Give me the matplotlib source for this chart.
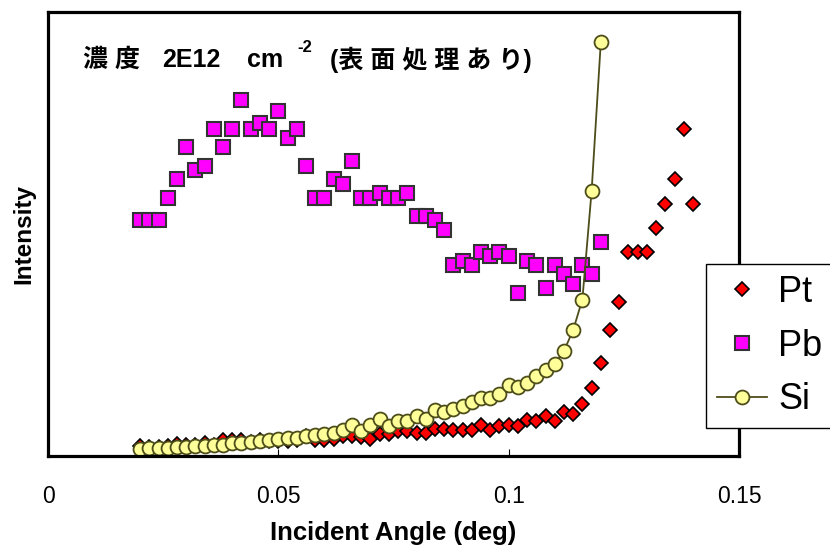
import matplotlib.pyplot as plt
import numpy as np

# incident angle grid (deg)
angle_si = np.round(np.arange(0.020, 0.1201, 0.002), 3)
angle_pb = np.round(np.arange(0.020, 0.1201, 0.002), 3)
angle_pt = np.round(np.arange(0.020, 0.1401, 0.002), 3)

# intensity (arb. units)
si = [7, 7.7, 8, 8.3, 9, 9.3, 10, 10.3, 11, 11.3,
      13.5, 13.5, 13.7, 15, 16.5, 17.5, 18.5, 18.5, 20.5, 21,
      22.5, 23, 26, 31, 25, 31.5, 37.3, 30.2, 35.3, 35.3,
      39.7, 37, 46.3, 44.3, 47, 49.7, 53.7, 58.3, 58.3, 61.7,
      71, 69, 73, 79.7, 85.7, 92.3, 105, 126, 156.5, 264.7, 413.7]
pb = [236, 236, 236, 257.7, 277, 309.3, 286.3, 289.7, 327, 309.3,
      327, 356, 327, 332.7, 327, 345, 318, 327, 289.7, 257.7,
      257.7, 277, 271.7, 295, 257.7, 257.7, 263, 257.7, 257.7, 263,
      239.7, 239.7, 236, 226, 191, 195, 191, 203.7, 199.7, 203.7,
      200.3, 163, 195, 191, 168, 191, 182.3, 172, 191, 182.3, 214.3]
pt = [10, 9.5, 9.5, 10.5, 12.5, 11.5, 11, 13, 11, 16,
      16.5, 16.5, 14, 16.5, 15, 15, 15.5, 16, 20, 16,
      16.5, 17, 20, 20, 19, 17, 22, 22, 25.3, 25.3,
      23, 23, 27, 27, 26.3, 26.3, 26.3, 31, 26.3, 30.3,
      31, 30.3, 36.3, 35.3, 39.7, 35.3, 43.7, 42, 51.7, 67.7,
      93, 126.5, 153.7, 204.3, 204.3, 204.3, 227.7, 252, 277, 327, 252]

latin = ['Liberation Sans', 'Noto Sans CJK JP', 'DejaVu Sans']
plt.rcParams['font.family'] = latin

W, H = 830, 550
fig = plt.figure(figsize=(8.3, 5.5), dpi=100)
ax = fig.add_axes([48 / W, (H - 456) / H, (739 - 48) / W, (456 - 12) / H])

ax.plot(angle_pt, pt, 'D', color='#ff0000', markeredgecolor='black',
        markeredgewidth=1.2, markersize=6.8, linestyle='none', label='Pt')
ax.plot(angle_pb, pb, 's', color='#ff00ff', markeredgecolor='#333333',
        markeredgewidth=1.5, markersize=10.5, linestyle='none', label='Pb')
ax.plot(angle_si, si, '-o', color='#4d4d1a', linewidth=1.3,
        markerfacecolor='#ffff99', markeredgecolor='#4d4d1a',
        markeredgewidth=1.3, markersize=10, label='Si')

ax.set_xlim(0, 0.15)
ax.set_ylim(0, 444)
ax.set_xticks([0, 0.05, 0.1, 0.15])
ax.set_xticklabels(['0', '0.05', '0.1', '0.15'])
ax.set_yticks([])
ax.tick_params(axis='x', direction='in', length=5, width=0.8, pad=21,
               labelsize=16.5)
for s in ax.spines.values():
    s.set_linewidth(2.3)

ax.set_xlabel('Incident Angle (deg)', fontsize=18.5, fontweight='bold',
              labelpad=9)
ax.set_ylabel('Intensity', fontsize=17.5, fontweight='bold', labelpad=9)

# title pieces
ty = 1 - 60 / H
kw = dict(fontsize=18, fontweight='bold', va='center', ha='left',
          family=latin)
fig.text(83 / W, ty, '濃 度', **kw)
fig.text(162 / W, ty, '2E12', **kw)
fig.text(247 / W, ty, 'cm', **kw)
fig.text(297 / W, 1 - 48 / H, '-2', fontsize=12, fontweight='bold',
         va='center', ha='left', family=latin)
fig.text(330 / W, ty, '(表 面 処 理 あ り)', **kw)

leg = ax.legend(loc='upper left', bbox_to_anchor=(706 / W, 1 - 264 / H),
                bbox_transform=fig.transFigure, borderaxespad=0,
                fontsize=26, frameon=True, fancybox=False, shadow=False,
                edgecolor='black', framealpha=1, borderpad=0.3,
                labelspacing=0.52, handlelength=1.4, handletextpad=0.3)
leg.get_frame().set_linewidth(1.0)
leg.set_zorder(10)

fig.savefig('out.png', dpi=100)
